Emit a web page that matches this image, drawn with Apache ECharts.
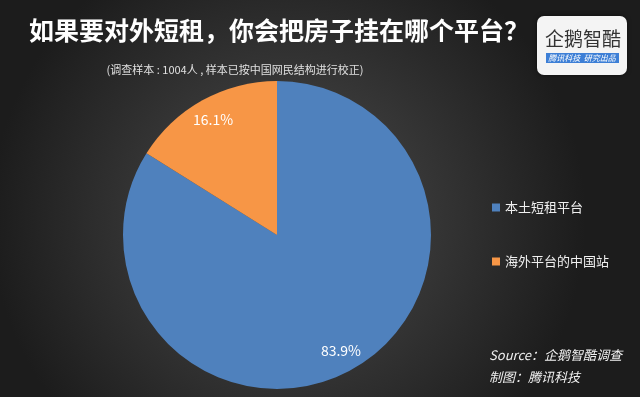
<!DOCTYPE html>
<html>
<head>
<meta charset="utf-8">
<script src="https://cdn.jsdelivr.net/npm/echarts@6/dist/echarts.min.js"></script>
<style>
  html, body { margin: 0; padding: 0; }
  #chart { width: 640px; height: 397px; }
</style>
</head>
<body>
<div id="chart"></div>
<script>
const categories = ['本土短租平台', '海外平台的中国站'];
const shares = [83.9, 16.1];
const colors = ['#4f81bd', '#f79646'];

const titleText = '如果要对外短租，你会把房子挂在哪个平台？';
const subText = '(调查样本 : 1004人 , 样本已按中国网民结构进行校正)';
const sourceLines = ['Source：企鹅智酷调查', '制图：腾讯科技'];

const font = '"Noto Sans CJK SC", "Noto Sans", sans-serif';

const chart = echarts.init(document.getElementById('chart'));

const pieData = categories.map((name, i) => ({
  name: name,
  value: shares[i],
  itemStyle: { color: colors[i] }
}));

chart.setOption({
  backgroundColor: new echarts.graphic.RadialGradient(0.45, 0.55, 0.75, [
    { offset: 0, color: '#4d4d4d' },
    { offset: 1, color: '#1c1c1c' }
  ]),
  title: [
    {
      text: titleText,
      left: 274, top: 13, textAlign: 'center',
      textStyle: { color: '#ffffff', fontSize: 25, fontWeight: 'bold', fontFamily: font }
    },
    {
      text: subText,
      left: 230, top: 59, textAlign: 'center',
      textStyle: { color: '#e0e0e0', fontSize: 11, fontWeight: 'normal', fontFamily: font }
    }
  ],
  legend: {
    orient: 'vertical',
    left: 487, top: 196,
    itemWidth: 8, itemHeight: 8,
    itemGap: 41,
    icon: 'rect',
    textStyle: { color: '#f0f0f0', fontSize: 13, fontFamily: font },
    data: categories
  },
  series: [
    {
      type: 'pie',
      center: [277, 235],
      radius: 154,
      startAngle: 90,
      clockwise: true,
      silent: true,
      label: { show: false },
      labelLine: { show: false },
      data: pieData
    },
    {
      // transparent ring only used to place the value labels further out
      type: 'pie',
      center: [277, 235],
      radius: [104, 154],
      startAngle: 90,
      clockwise: true,
      silent: true,
      legendHoverLink: false,
      itemStyle: { color: 'rgba(0,0,0,0)' },
      label: {
        show: true,
        position: 'inside',
        formatter: p => p.value.toFixed(1) + '%',
        color: '#ffffff',
        fontSize: 14,
        fontFamily: font
      },
      labelLine: { show: false },
      data: categories.map((name, i) => ({ name: name + ' ', value: shares[i] }))
    }
  ],
  graphic: [
    {
      type: 'text',
      left: 489, top: 344,
      style: {
        text: sourceLines.join('\n'),
        fill: '#f0f0f0',
        font: 'italic 13px ' + font,
        lineHeight: 22
      }
    },
    {
      type: 'group',
      left: 537, top: 16,
      children: [
        {
          type: 'rect',
          shape: { x: 0, y: 0, width: 90, height: 59, r: 7 },
          style: { fill: '#f4f4f4', shadowBlur: 4, shadowColor: 'rgba(0,0,0,0.5)' }
        },
        {
          type: 'text',
          x: 46, y: 23,
          style: {
            text: '企鹅智酷',
            fill: '#333333',
            font: '19px ' + font,
            align: 'center',
            verticalAlign: 'middle'
          }
        },
        {
          type: 'rect',
          shape: { x: 9, y: 37, width: 73, height: 10 },
          style: { fill: '#3d7fd6' }
        },
        {
          type: 'text',
          x: 45, y: 42,
          style: {
            text: '腾讯科技  研究出品',
            fill: '#ffffff',
            font: 'italic 8px ' + font,
            align: 'center',
            verticalAlign: 'middle'
          }
        }
      ]
    }
  ]
});
</script>
</body>
</html>
